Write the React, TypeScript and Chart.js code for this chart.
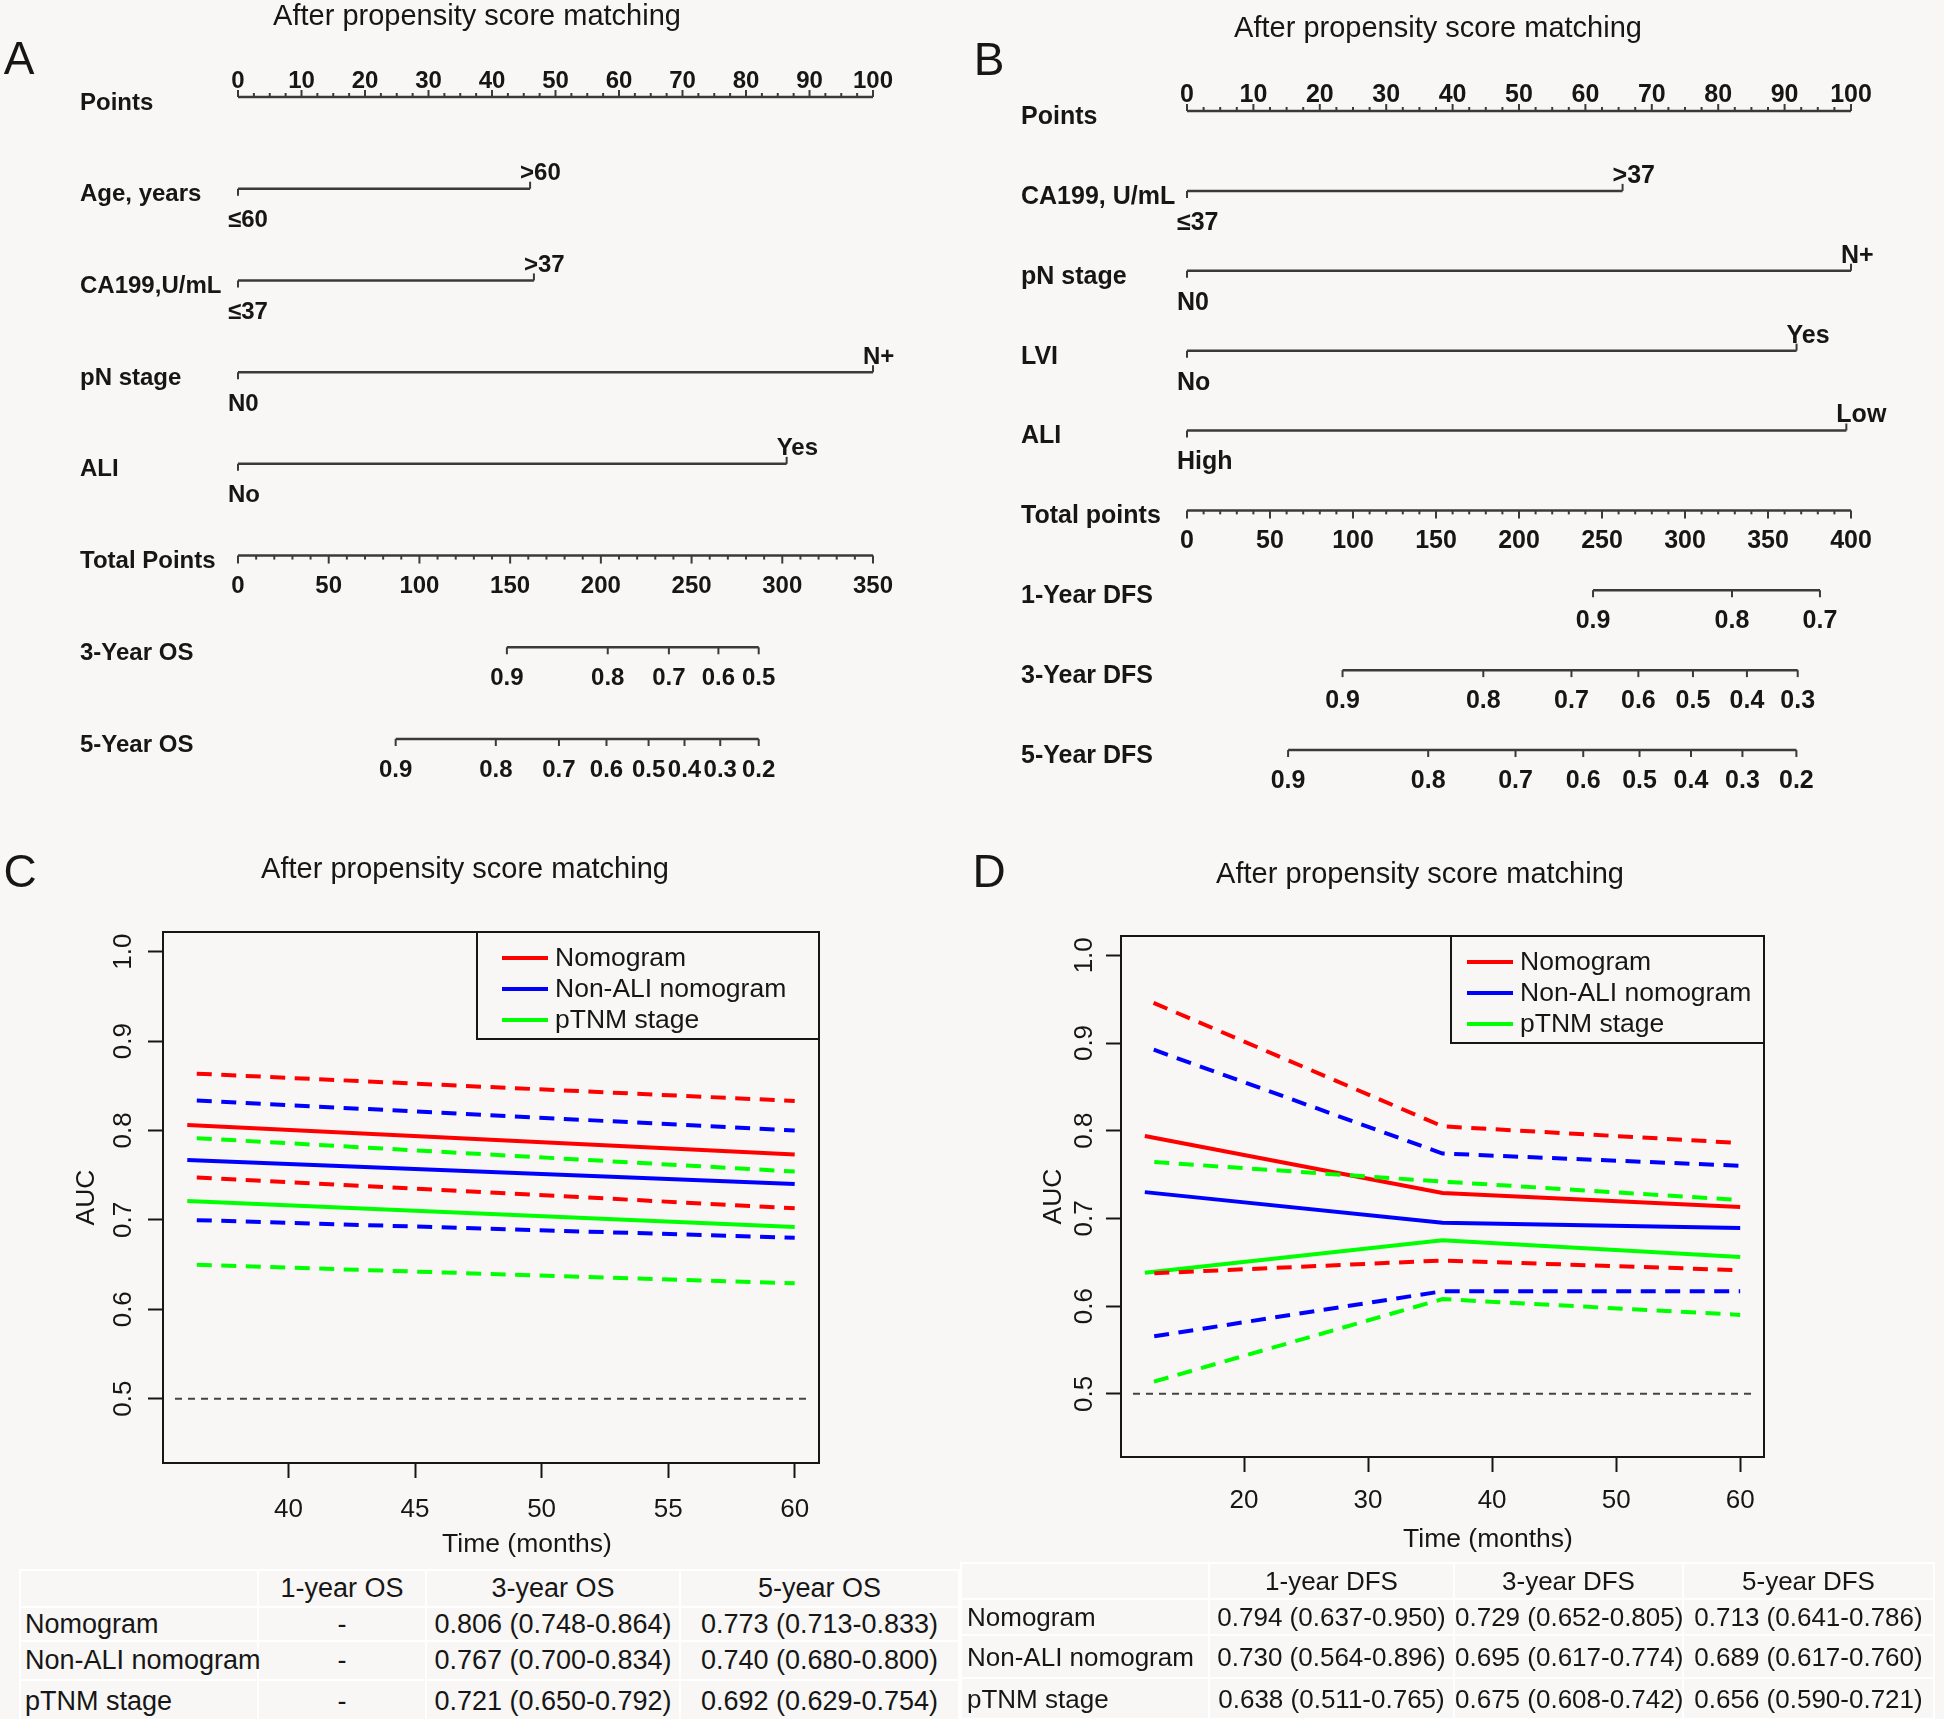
import React, { useEffect, useRef } from "react";
import { Chart, registerables } from "chart.js";

Chart.register(...registerables);

const FONT = "'Liberation Sans', Arial, Helvetica, sans-serif";
const BG = "#f8f7f5";
const INK = "#161616";
const AXIS_INK = "#3a3a3a";

const PANEL_TITLE = "After propensity score matching";

// ---------------- Panel A (OS nomogram) ----------------
const A_ROW_LABELS = ["Points", "Age, years", "CA199,U/mL", "pN stage", "ALI", "Total Points", "3-Year OS", "5-Year OS"];
const A_LOW_LEVELS = ["≤60", "≤37", "N0", "No"];
const A_HIGH_LEVELS = [">60", ">37", "N+", "Yes"];
const A_HIGH_POINTS = [46.0, 46.6, 100, 86.4];
const A_TOTAL_TICKS = [0, 50, 100, 150, 200, 250, 300, 350];
const A_OS3_LABELS = ["0.9", "0.8", "0.7", "0.6", "0.5"];
const A_OS3_TOTALS = [148.2, 203.8, 237.5, 264.8, 287.0];
const A_OS5_LABELS = ["0.9", "0.8", "0.7", "0.6", "0.5", "0.4", "0.3", "0.2"];
const A_OS5_TOTALS = [86.9, 142.1, 176.9, 203.1, 226.3, 246.1, 265.8, 287.0];

// ---------------- Panel B (DFS nomogram) ----------------
const B_ROW_LABELS = ["Points", "CA199, U/mL", "pN stage", "LVI", "ALI", "Total points", "1-Year DFS", "3-Year DFS", "5-Year DFS"];
const B_LOW_LEVELS = ["≤37", "N0", "No", "High"];
const B_HIGH_LEVELS = [">37", "N+", "Yes", "Low"];
const B_HIGH_POINTS = [65.6, 100, 91.8, 99.3];
const B_TOTAL_TICKS = [0, 50, 100, 150, 200, 250, 300, 350, 400];
const B_DFS1_LABELS = ["0.9", "0.8", "0.7"];
const B_DFS1_TOTALS = [244.6, 328.3, 381.3];
const B_DFS3_LABELS = ["0.9", "0.8", "0.7", "0.6", "0.5", "0.4", "0.3"];
const B_DFS3_TOTALS = [93.7, 178.5, 231.6, 271.9, 304.8, 337.3, 367.9];
const B_DFS5_LABELS = ["0.9", "0.8", "0.7", "0.6", "0.5", "0.4", "0.3", "0.2"];
const B_DFS5_TOTALS = [60.9, 145.3, 197.9, 238.7, 272.6, 303.6, 334.6, 367.1];

const POINTS_TICKS = [0, 10, 20, 30, 40, 50, 60, 70, 80, 90, 100];
const POINTS_MINOR_STEP = 2.5;
const TOTAL_MINOR_STEP = 10;

// ---------------- Panel C (OS time-dependent AUC) ----------------
const MODEL_NAMES = ["Nomogram", "Non-ALI nomogram", "pTNM stage"];
const MODEL_COLORS = ["#ff0000", "#0000ff", "#00ff00"];

const C_TIMES = [36, 60];
const C_NOMOGRAM_AUC = [0.806, 0.773];
const C_NOMOGRAM_LO = [0.748, 0.713];
const C_NOMOGRAM_HI = [0.864, 0.833];
const C_NONALI_AUC = [0.767, 0.740];
const C_NONALI_LO = [0.700, 0.680];
const C_NONALI_HI = [0.834, 0.800];
const C_PTNM_AUC = [0.721, 0.692];
const C_PTNM_LO = [0.650, 0.629];
const C_PTNM_HI = [0.792, 0.754];
const C_X_TICKS = [40, 45, 50, 55, 60];
const C_X_RANGE = [35.04, 60.96];

// ---------------- Panel D (DFS time-dependent AUC) ----------------
const D_TIMES = [12, 36, 60];
const D_NOMOGRAM_AUC = [0.794, 0.729, 0.713];
const D_NOMOGRAM_LO = [0.637, 0.652, 0.641];
const D_NOMOGRAM_HI = [0.950, 0.805, 0.786];
const D_NONALI_AUC = [0.730, 0.695, 0.689];
const D_NONALI_LO = [0.564, 0.617, 0.617];
const D_NONALI_HI = [0.896, 0.774, 0.760];
const D_PTNM_AUC = [0.638, 0.675, 0.656];
const D_PTNM_LO = [0.511, 0.608, 0.590];
const D_PTNM_HI = [0.765, 0.742, 0.721];
const D_X_TICKS = [20, 30, 40, 50, 60];
const D_X_RANGE = [10.08, 61.92];

const Y_TICKS = [0.5, 0.6, 0.7, 0.8, 0.9, 1.0];
const Y_RANGE = [0.428, 1.022];
const REF_AUC = 0.5;

const C_HEADERS = ["", "1-year OS", "3-year OS", "5-year OS"];
const D_HEADERS = ["", "1-year DFS", "3-year DFS", "5-year DFS"];
const TABLE_YEARS_MONTHS = [12, 36, 60];

// ---------------------------------------------------------
const last = (a: any[]) => a[a.length - 1];

type NomoCfg = {
  rowLabels: string[];
  lowLevels: string[];
  highLevels: string[];
  highPoints: number[];
  totalTicks: number[];
  probLabels: string[][];
  probTotals: number[][];
  fontSize: number;
  labelX: number;
  padding: { left: number; right: number; top: number; bottom: number };
};

const A_CFG: NomoCfg = {
  rowLabels: A_ROW_LABELS,
  lowLevels: A_LOW_LEVELS,
  highLevels: A_HIGH_LEVELS,
  highPoints: A_HIGH_POINTS,
  totalTicks: A_TOTAL_TICKS,
  probLabels: [A_OS3_LABELS, A_OS5_LABELS],
  probTotals: [A_OS3_TOTALS, A_OS5_TOTALS],
  fontSize: 24,
  labelX: 80,
  padding: { left: 238, right: 99, top: 97, bottom: 61 },
};

const B_CFG: NomoCfg = {
  rowLabels: B_ROW_LABELS,
  lowLevels: B_LOW_LEVELS,
  highLevels: B_HIGH_LEVELS,
  highPoints: B_HIGH_POINTS,
  totalTicks: B_TOTAL_TICKS,
  probLabels: [B_DFS1_LABELS, B_DFS3_LABELS, B_DFS5_LABELS],
  probTotals: [B_DFS1_TOTALS, B_DFS3_TOTALS, B_DFS5_TOTALS],
  fontSize: 25,
  labelX: 49,
  padding: { left: 215, right: 93, top: 111, bottom: 50 },
};

function nomogramPlugin(cfg: NomoCfg) {
  return {
    id: "nomogramAxes",
    afterDatasetsDraw(chart: any) {
      const ctx = chart.ctx as CanvasRenderingContext2D;
      const xs = chart.scales.x;
      const xt = chart.scales.xt;
      const ys = chart.scales.y;
      ctx.save();
      ctx.font = `bold ${cfg.fontSize}px ${FONT}`;
      ctx.fillStyle = INK;
      ctx.strokeStyle = AXIS_INK;
      ctx.lineWidth = 2;
      ctx.textBaseline = "middle";
      const tick = (x: number, y: number, len: number) => {
        ctx.beginPath();
        ctx.moveTo(x, y);
        ctx.lineTo(x, y + len);
        ctx.stroke();
      };
      // row labels
      ctx.textAlign = "left";
      cfg.rowLabels.forEach((lab, i) => ctx.fillText(lab, cfg.labelX, ys.getPixelForValue(i) + 6));

      // points axis (ticks up, labels above)
      const y0 = ys.getPixelForValue(0);
      for (let v = POINTS_TICKS[0]; v <= last(POINTS_TICKS) + 1e-9; v += POINTS_MINOR_STEP) {
        const major = POINTS_TICKS.indexOf(v) >= 0;
        tick(xs.getPixelForValue(v), y0, major ? -7 : -4);
      }
      ctx.textAlign = "center";
      POINTS_TICKS.forEach((v) => ctx.fillText(String(v), xs.getPixelForValue(v), y0 - 16));

      // variables
      cfg.highPoints.forEach((p, i) => {
        const y = ys.getPixelForValue(i + 1);
        const x0 = xs.getPixelForValue(0);
        const x1 = xs.getPixelForValue(p);
        tick(x0, y, 7);
        tick(x1, y, -7);
        ctx.textAlign = "left";
        ctx.fillText(cfg.lowLevels[i], x0 - 10, y + 32);
        ctx.fillText(cfg.highLevels[i], x1 - 10, y - 15);
      });

      // total points
      const tr = cfg.highPoints.length + 1;
      const yt = ys.getPixelForValue(tr);
      for (let v = cfg.totalTicks[0]; v <= last(cfg.totalTicks) + 1e-9; v += TOTAL_MINOR_STEP) {
        const major = cfg.totalTicks.indexOf(v) >= 0;
        tick(xt.getPixelForValue(v), yt, major ? 8 : 4);
      }
      ctx.textAlign = "center";
      cfg.totalTicks.forEach((v) => ctx.fillText(String(v), xt.getPixelForValue(v), yt + 31));

      // probability rows
      cfg.probTotals.forEach((arr, k) => {
        const y = ys.getPixelForValue(tr + 1 + k);
        arr.forEach((v, j) => {
          const x = xt.getPixelForValue(v);
          tick(x, y, 7);
          ctx.fillText(cfg.probLabels[k][j], x, y + 31);
        });
      });
      ctx.restore();
    },
  };
}

function nomogramConfig(cfg: NomoCfg): any {
  const totalRow = cfg.highPoints.length + 1;
  const lastRow = totalRow + cfg.probTotals.length;
  const seg = (pts: { x: number; y: number }[], axis: string) => ({
    data: pts,
    xAxisID: axis,
    yAxisID: "y",
    borderColor: AXIS_INK,
    borderWidth: 2.5,
    borderCapStyle: "butt",
    pointRadius: 0,
    fill: false,
    tension: 0,
    clip: false,
  });
  const datasets: any[] = [seg([{ x: POINTS_TICKS[0], y: 0 }, { x: last(POINTS_TICKS), y: 0 }], "x")];
  cfg.highPoints.forEach((p, i) => datasets.push(seg([{ x: 0, y: i + 1 }, { x: p, y: i + 1 }], "x")));
  datasets.push(seg([{ x: cfg.totalTicks[0], y: totalRow }, { x: last(cfg.totalTicks), y: totalRow }], "xt"));
  cfg.probTotals.forEach((arr, k) =>
    datasets.push(seg([{ x: Math.min(...arr), y: totalRow + 1 + k }, { x: Math.max(...arr), y: totalRow + 1 + k }], "xt"))
  );
  return {
    type: "line",
    data: { datasets },
    options: {
      animation: false,
      responsive: false,
      maintainAspectRatio: false,
      events: [],
      layout: { padding: cfg.padding },
      plugins: { legend: { display: false }, tooltip: { enabled: false } },
      scales: {
        x: { type: "linear", min: POINTS_TICKS[0], max: last(POINTS_TICKS), display: false },
        xt: { type: "linear", axis: "x", min: cfg.totalTicks[0], max: last(cfg.totalTicks), display: false },
        y: { type: "linear", min: 0, max: lastRow, reverse: true, display: false },
      },
    },
    plugins: [nomogramPlugin(cfg)],
  };
}

type Model = { name: string; color: string; auc: number[]; lo: number[]; hi: number[] };
type AucCfg = {
  times: number[];
  models: Model[];
  xTicks: number[];
  xRange: number[];
  padding: { left: number; right: number; top: number; bottom: number };
  yWidth: number;
  xHeight: number;
  xPad: number;
  yPad: number;
  titlePad: number;
  legendW: number;
  legendLineOff: number;
};

const C_MODELS: Model[] = [
  { name: MODEL_NAMES[0], color: MODEL_COLORS[0], auc: C_NOMOGRAM_AUC, lo: C_NOMOGRAM_LO, hi: C_NOMOGRAM_HI },
  { name: MODEL_NAMES[1], color: MODEL_COLORS[1], auc: C_NONALI_AUC, lo: C_NONALI_LO, hi: C_NONALI_HI },
  { name: MODEL_NAMES[2], color: MODEL_COLORS[2], auc: C_PTNM_AUC, lo: C_PTNM_LO, hi: C_PTNM_HI },
];
const D_MODELS: Model[] = [
  { name: MODEL_NAMES[0], color: MODEL_COLORS[0], auc: D_NOMOGRAM_AUC, lo: D_NOMOGRAM_LO, hi: D_NOMOGRAM_HI },
  { name: MODEL_NAMES[1], color: MODEL_COLORS[1], auc: D_NONALI_AUC, lo: D_NONALI_LO, hi: D_NONALI_HI },
  { name: MODEL_NAMES[2], color: MODEL_COLORS[2], auc: D_PTNM_AUC, lo: D_PTNM_LO, hi: D_PTNM_HI },
];

const C_CFG: AucCfg = {
  times: C_TIMES,
  models: C_MODELS,
  xTicks: C_X_TICKS,
  xRange: C_X_RANGE,
  padding: { left: 71, right: 153, top: 52, bottom: 7 },
  yWidth: 92,
  xHeight: 90,
  xPad: 16,
  yPad: 6,
  titlePad: 0,
  legendW: 342,
  legendLineOff: 25,
};
const D_CFG: AucCfg = {
  times: D_TIMES,
  models: D_MODELS,
  xTicks: D_X_TICKS,
  xRange: D_X_RANGE,
  padding: { left: 71, right: 180, top: 56, bottom: 13 },
  yWidth: 90,
  xHeight: 90,
  xPad: 13,
  yPad: 3,
  titlePad: 7,
  legendW: 313,
  legendLineOff: 16,
};

function aucPlugin(cfg: AucCfg) {
  return {
    id: "aucDecor",
    afterDatasetsDraw(chart: any) {
      const ctx = chart.ctx as CanvasRenderingContext2D;
      const a = chart.chartArea;
      const ys = chart.scales.y;
      ctx.save();
      // reference line
      const yr = ys.getPixelForValue(REF_AUC);
      ctx.strokeStyle = "#444";
      ctx.lineWidth = 2;
      ctx.setLineDash([7, 6]);
      ctx.beginPath();
      ctx.moveTo(a.left + 12, yr);
      ctx.lineTo(a.right - 10, yr);
      ctx.stroke();
      ctx.setLineDash([]);
      // legend
      const lx = a.right - cfg.legendW;
      const ly = a.top;
      const lh = 107;
      ctx.fillStyle = BG;
      ctx.fillRect(lx, ly, cfg.legendW, lh);
      ctx.strokeStyle = INK;
      ctx.lineWidth = 2;
      ctx.strokeRect(lx, ly, cfg.legendW, lh);
      ctx.font = `26.5px ${FONT}`;
      ctx.textBaseline = "middle";
      ctx.textAlign = "left";
      cfg.models.forEach((m, i) => {
        const y = ly + 26 + 31 * i;
        ctx.strokeStyle = m.color;
        ctx.lineWidth = 4;
        ctx.beginPath();
        ctx.moveTo(lx + cfg.legendLineOff, y);
        ctx.lineTo(lx + cfg.legendLineOff + 46, y);
        ctx.stroke();
        ctx.fillStyle = INK;
        ctx.fillText(m.name, lx + cfg.legendLineOff + 53, y + 1);
      });
      // plot box
      ctx.strokeStyle = INK;
      ctx.lineWidth = 2;
      ctx.strokeRect(a.left, a.top, a.right - a.left, a.bottom - a.top);
      ctx.restore();
    },
  };
}

function aucConfig(cfg: AucCfg): any {
  const pts = (vals: number[]) => cfg.times.map((t, i) => ({ x: t, y: vals[i] }));
  const datasets: any[] = [];
  cfg.models.forEach((m) => {
    [m.hi, m.lo].forEach((vals) =>
      datasets.push({
        label: "",
        data: pts(vals),
        borderColor: m.color,
        borderWidth: 4,
        borderDash: [15, 9.5],
        borderDashOffset: 15,
        borderCapStyle: "butt",
        pointRadius: 0,
        tension: 0,
        fill: false,
      })
    );
  });
  cfg.models.forEach((m) =>
    datasets.push({
      label: m.name,
      data: pts(m.auc),
      borderColor: m.color,
      borderWidth: 4,
      borderCapStyle: "butt",
      pointRadius: 0,
      tension: 0,
      fill: false,
    })
  );
  const tickFont = { family: FONT, size: 26 };
  return {
    type: "line",
    data: { datasets },
    options: {
      animation: false,
      responsive: false,
      maintainAspectRatio: false,
      events: [],
      layout: { padding: cfg.padding },
      plugins: { legend: { display: false }, tooltip: { enabled: false } },
      scales: {
        x: {
          type: "linear",
          min: cfg.xRange[0],
          max: cfg.xRange[1],
          afterBuildTicks: (s: any) => {
            s.ticks = cfg.xTicks.map((v) => ({ value: v }));
          },
          afterFit: (s: any) => {
            s.height = cfg.xHeight;
          },
          grid: { display: true, drawOnChartArea: false, drawTicks: true, tickLength: 15, tickWidth: 2, tickColor: INK },
          border: { display: false },
          ticks: { font: tickFont, color: INK, padding: cfg.xPad, minRotation: 0, maxRotation: 0, autoSkip: false, callback: (v: any) => String(v) },
        },
        y: {
          type: "linear",
          min: Y_RANGE[0],
          max: Y_RANGE[1],
          afterBuildTicks: (s: any) => {
            s.ticks = Y_TICKS.map((v) => ({ value: v }));
          },
          afterFit: (s: any) => {
            s.width = cfg.yWidth;
          },
          grid: { display: true, drawOnChartArea: false, drawTicks: true, tickLength: 15, tickWidth: 2, tickColor: INK },
          border: { display: false },
          ticks: {
            font: tickFont,
            color: INK,
            padding: cfg.yPad,
            minRotation: 90,
            maxRotation: 90,
            crossAlign: "center",
            autoSkip: false,
            callback: (v: any) => Number(v).toFixed(1),
          },
          title: { display: true, text: "AUC", font: { family: FONT, size: 26.5 }, color: INK, padding: { top: cfg.titlePad, bottom: 0 } },
        },
      },
    },
    plugins: [aucPlugin(cfg)],
  };
}

function ChartCanvas(props: { left: number; top: number; width: number; height: number; build: () => any }) {
  const ref = useRef<HTMLCanvasElement | null>(null);
  useEffect(() => {
    if (!ref.current) return;
    const chart = new Chart(ref.current, props.build());
    return () => chart.destroy();
  }, []);
  return (
    <canvas
      ref={ref}
      width={props.width}
      height={props.height}
      style={{ position: "absolute", left: props.left, top: props.top, width: props.width, height: props.height }}
    />
  );
}

function Txt(props: { x: number; y: number; size: number; children: any; weight?: number }) {
  return (
    <div
      style={{
        position: "absolute",
        left: props.x,
        top: props.y,
        transform: "translate(-50%, -50%)",
        fontSize: props.size,
        fontWeight: props.weight || 400,
        whiteSpace: "nowrap",
        lineHeight: 1,
        fontFamily: FONT,
        color: INK,
      }}
    >
      {props.children}
    </div>
  );
}

const fmtCI = (v: number, lo: number, hi: number) => `${v.toFixed(3)} (${lo.toFixed(3)}-${hi.toFixed(3)})`;

function tableRows(times: number[], models: Model[]) {
  return models.map((m) => [
    m.name,
    ...TABLE_YEARS_MONTHS.map((t) => {
      const i = times.indexOf(t);
      return i < 0 ? "-" : fmtCI(m.auc[i], m.lo[i], m.hi[i]);
    }),
  ]);
}

function AucTable(props: {
  left: number;
  top: number;
  colWidths: number[];
  rowHeights: number[];
  headers: string[];
  rows: string[][];
  fontSize: number;
  labelPad: number;
}) {
  const cell = (h: number, align: "left" | "center", pad: number): React.CSSProperties => ({
    border: "2px solid #ffffff",
    padding: 0,
    paddingLeft: pad,
    height: h,
    textAlign: align,
    verticalAlign: "middle",
    whiteSpace: "nowrap",
    overflow: "visible",
  });
  const total = props.colWidths.reduce((s, w) => s + w, 0);
  return (
    <table
      style={{
        position: "absolute",
        left: props.left,
        top: props.top,
        width: total,
        borderCollapse: "collapse",
        tableLayout: "fixed",
        fontFamily: FONT,
        fontSize: props.fontSize,
        color: INK,
        lineHeight: 1,
      }}
    >
      <colgroup>
        {props.colWidths.map((w, i) => (
          <col key={i} style={{ width: w }} />
        ))}
      </colgroup>
      <tbody>
        <tr>
          {props.headers.map((h, i) => (
            <td key={i} style={cell(props.rowHeights[0], "center", 0)}>
              {h}
            </td>
          ))}
        </tr>
        {props.rows.map((r, ri) => (
          <tr key={ri}>
            {r.map((c, ci) => (
              <td key={ci} style={cell(props.rowHeights[ri + 1], ci === 0 ? "left" : "center", ci === 0 ? props.labelPad : 0)}>
                {c}
              </td>
            ))}
          </tr>
        ))}
      </tbody>
    </table>
  );
}

export default function App() {
  useEffect(() => {
    document.body.style.margin = "0";
    document.body.style.background = BG;
    document.body.style.overflow = "hidden";
  }, []);
  return (
    <div style={{ position: "absolute", left: 0, top: 0, width: 1944, height: 1719, background: BG, overflow: "hidden" }}>
      <ChartCanvas left={0} top={0} width={972} height={800} build={() => nomogramConfig(A_CFG)} />
      <ChartCanvas left={972} top={0} width={972} height={800} build={() => nomogramConfig(B_CFG)} />
      <ChartCanvas left={0} top={880} width={972} height={680} build={() => aucConfig(C_CFG)} />
      <ChartCanvas left={960} top={880} width={984} height={680} build={() => aucConfig(D_CFG)} />

      <Txt x={19} y={58} size={46}>A</Txt>
      <Txt x={989} y={59} size={46}>B</Txt>
      <Txt x={20} y={871} size={46}>C</Txt>
      <Txt x={989} y={871} size={46}>D</Txt>

      <Txt x={477} y={15} size={29}>{PANEL_TITLE}</Txt>
      <Txt x={1438} y={27} size={29}>{PANEL_TITLE}</Txt>
      <Txt x={465} y={868} size={29}>{PANEL_TITLE}</Txt>
      <Txt x={1420} y={873} size={29}>{PANEL_TITLE}</Txt>

      <Txt x={527} y={1543} size={26.5}>Time (months)</Txt>
      <Txt x={1488} y={1538} size={26.5}>Time (months)</Txt>

      <AucTable
        left={19}
        top={1569}
        colWidths={[238, 168, 254, 279]}
        rowHeights={[35, 32, 37, 41]}
        headers={C_HEADERS}
        rows={tableRows(C_TIMES, C_MODELS)}
        fontSize={27}
        labelPad={4}
      />
      <AucTable
        left={960}
        top={1562}
        colWidths={[248, 245, 229, 251]}
        rowHeights={[34, 34, 41, 39]}
        headers={D_HEADERS}
        rows={tableRows(D_TIMES, D_MODELS)}
        fontSize={26}
        labelPad={5}
      />
    </div>
  );
}
